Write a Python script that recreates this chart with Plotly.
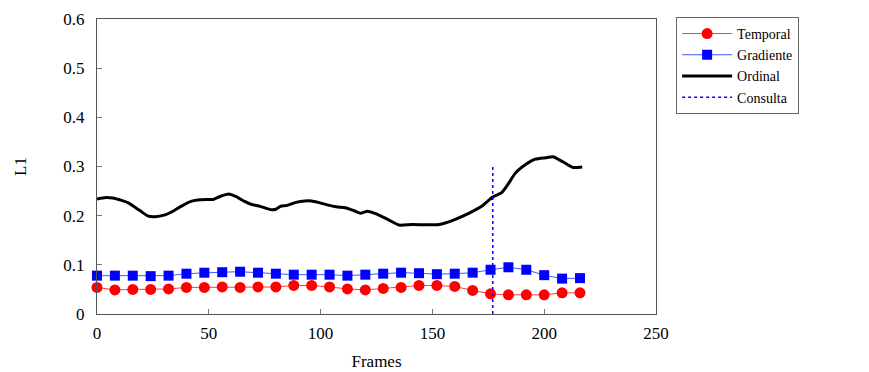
import plotly.graph_objects as go

# Temporal / Gradiente sampled every 8 frames
frames_markers = [0, 8, 16, 24, 32, 40, 48, 56, 64, 72, 80, 88, 96, 104, 112, 120,
                  128, 136, 144, 152, 160, 168, 176, 184, 192, 200, 208, 216]
temporal = [0.054, 0.049, 0.050, 0.050, 0.051, 0.054, 0.054, 0.055, 0.054, 0.055,
            0.055, 0.058, 0.058, 0.055, 0.051, 0.049, 0.052, 0.054, 0.058, 0.058,
            0.056, 0.048, 0.041, 0.039, 0.039, 0.039, 0.043, 0.043]
gradiente = [0.078, 0.078, 0.078, 0.077, 0.078, 0.082, 0.084, 0.085, 0.086, 0.084,
             0.082, 0.080, 0.080, 0.080, 0.078, 0.080, 0.082, 0.084, 0.083, 0.081,
             0.082, 0.084, 0.090, 0.095, 0.090, 0.079, 0.072, 0.073]

# Ordinal curve
frames_ordinal = [0, 4, 7, 11, 14, 19, 23, 26, 30, 34, 38, 42, 45, 49, 52, 55, 59, 62,
                  66, 69, 73, 78, 80, 82, 85, 89, 93, 96, 99, 103, 107, 111, 115, 118,
                  121, 124, 127, 131, 135, 141, 153, 160, 166, 172, 177, 181, 184, 187,
                  192, 196, 201, 204, 207, 210, 213, 217]
ordinal = [0.234, 0.237, 0.236, 0.231, 0.226, 0.211, 0.199, 0.198, 0.201, 0.209, 0.220,
           0.229, 0.232, 0.233, 0.233, 0.239, 0.244, 0.239, 0.229, 0.223, 0.219, 0.212,
           0.213, 0.219, 0.221, 0.227, 0.230, 0.230, 0.227, 0.222, 0.218, 0.216, 0.210,
           0.205, 0.209, 0.205, 0.199, 0.190, 0.181, 0.182, 0.182, 0.192, 0.204, 0.219,
           0.238, 0.247, 0.265, 0.286, 0.305, 0.315, 0.318, 0.320, 0.313, 0.305, 0.298,
           0.299]

consulta_x = [177, 177]
consulta_y = [0, 0.3]

x_ticks = [0, 50, 100, 150, 200, 250]
y_ticks = [0, 0.1, 0.2, 0.3, 0.4, 0.5, 0.6]
y_ticklabels = ["0", "0.1", "0.2", "0.3", "0.4", "0.5", "0.6"]

FONT = "Liberation Serif, Times New Roman, serif"

fig = go.Figure()
fig.add_trace(go.Scatter(
    x=frames_markers, y=temporal, name="Temporal", mode="lines+markers",
    line=dict(color="#ff3b3b", width=1),
    marker=dict(symbol="circle", size=11, color="#ff0000"),
    cliponaxis=False))
fig.add_trace(go.Scatter(
    x=frames_markers, y=gradiente, name="Gradiente", mode="lines+markers",
    line=dict(color="#3b5bff", width=1),
    marker=dict(symbol="square", size=10, color="#0000ff"),
    cliponaxis=False))
fig.add_trace(go.Scatter(
    x=frames_ordinal, y=ordinal, name="Ordinal", mode="lines",
    line=dict(color="#000000", width=3, shape="spline", smoothing=0.6),
    cliponaxis=False))
fig.add_trace(go.Scatter(
    x=consulta_x, y=consulta_y, name="Consulta", mode="lines",
    line=dict(color="#0000ff", width=1.5, dash="dot")))

axis_common = dict(
    showgrid=False, zeroline=False, showline=True, linecolor="#555555", linewidth=1,
    mirror=True, ticks="inside", ticklen=5, tickcolor="#777777",
    tickfont=dict(family=FONT, size=17, color="#000"),
)

fig.update_layout(
    width=861, height=364,
    margin=dict(l=89, r=213, t=11, b=58, autoexpand=False),
    paper_bgcolor="white", plot_bgcolor="white",
    font=dict(family=FONT, color="#000"),
    xaxis=dict(range=[0, 250], tickvals=x_ticks, ticklabelstandoff=4,
               title=dict(text="Frames", font=dict(family=FONT, size=17), standoff=12),
               **axis_common),
    yaxis=dict(range=[0, 0.6], tickvals=y_ticks, ticktext=y_ticklabels,
               ticklabelstandoff=8,
               title=dict(text="L1", font=dict(family=FONT, size=17), standoff=32),
               **axis_common),
    legend=dict(x=1.036, y=1.007, xanchor="left", yanchor="top",
                bordercolor="#666666", borderwidth=1, bgcolor="white",
                font=dict(family=FONT, size=14), itemwidth=50,
                tracegroupgap=0),
    showlegend=True,
)

fig.write_html("out.html")
